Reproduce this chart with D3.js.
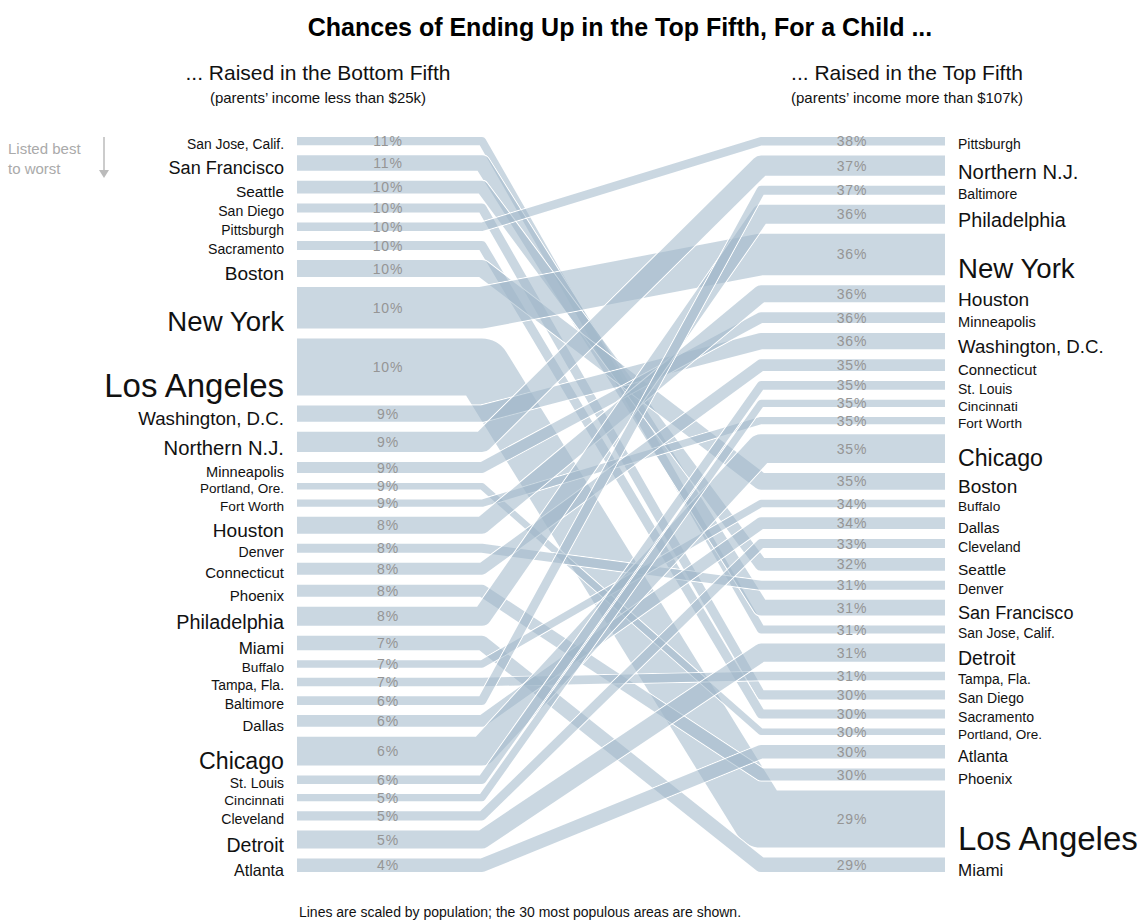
<!DOCTYPE html>
<html>
<head>
<meta charset="utf-8">
<script src="https://cdn.jsdelivr.net/npm/d3@7"></script>
<style>
  body { margin: 0; background: #fff; }
  text { font-family: "Liberation Sans", Arial, sans-serif; }
</style>
</head>
<body>
<svg id="chart" width="1142" height="924"></svg>
<script>
// Cities in the order of the left column (bottom-fifth chances, best to worst)
const cities = ["San Jose, Calif.", "San Francisco", "Seattle", "San Diego", "Pittsburgh", "Sacramento",
  "Boston", "New York", "Los Angeles", "Washington, D.C.", "Northern N.J.", "Minneapolis",
  "Portland, Ore.", "Fort Worth", "Houston", "Denver", "Connecticut", "Phoenix", "Philadelphia",
  "Miami", "Buffalo", "Tampa, Fla.", "Baltimore", "Dallas", "Chicago", "St. Louis", "Cincinnati",
  "Cleveland", "Detroit", "Atlanta"];

// chance (%) of reaching the top fifth, child raised in the bottom fifth
const bottomFifth = [11, 11, 10, 10, 10, 10, 10, 10, 10, 9, 9, 9, 9, 9, 8, 8, 8, 8, 8, 7, 7, 7, 6, 6, 6, 6, 5, 5, 5, 4];

// chance (%) of reaching the top fifth, child raised in the top fifth
const topFifth = [31, 31, 32, 30, 38, 30, 35, 36, 29, 36, 37, 36, 30, 35, 36, 31, 35, 30, 36, 29, 34, 31, 37, 34, 35, 35, 35, 33, 31, 30];

// population of each area, millions (sets line thickness)
const population = [2.35, 4.5, 3.65, 2.6, 2.45, 2.6, 4.85, 11.95, 16.4, 4.7, 5.85, 3.1, 1.9, 2.1, 4.9,
  2.6, 3.4, 3.5, 5.45, 4.15, 2.15, 2.45, 2.55, 3.4, 8.25, 2.45, 2.1, 2.6, 5.25, 3.85];

// order of the right column (top-fifth chances, best to worst)
const topOrder = ["Pittsburgh", "Northern N.J.", "Baltimore", "Philadelphia", "New York", "Houston",
  "Minneapolis", "Washington, D.C.", "Connecticut", "St. Louis", "Cincinnati", "Fort Worth", "Chicago",
  "Boston", "Buffalo", "Dallas", "Cleveland", "Seattle", "Denver", "San Francisco", "San Jose, Calif.",
  "Detroit", "Tampa, Fla.", "San Diego", "Sacramento", "Portland, Ore.", "Atlanta", "Phoenix",
  "Los Angeles", "Miami"];

var width = 1142, height = 924;
var svg = d3.select("#chart");

var top0 = 137, bottom0 = 872, gap = 10;
var x0 = 297, x1 = 482, x2 = 761, x3 = 945;

var totalPop = d3.sum(population);
var thick = d3.scaleLinear()
  .domain([0, totalPop])
  .range([0, (bottom0 - top0) - gap * (cities.length - 1)]);

var fontSize = d3.scaleLinear()
  .domain([2, 3.5, 4.8, 16.4])
  .range([13.5, 15, 19, 33])
  .clamp(true);

// stack the bands down a column in the given order
function stack(order) {
  var pos = {}, y = top0;
  order.forEach(function (c) {
    var h = thick(population[cities.indexOf(c)]);
    pos[c] = { y0: y, y1: y + h, mid: y + h / 2 };
    y += h + gap;
  });
  return pos;
}
var leftPos = stack(cities), rightPos = stack(topOrder);

var data = cities.map(function (c, i) {
  return {
    city: c, i: i,
    w: thick(population[i]),
    fs: fontSize(population[i]),
    left: leftPos[c], right: rightPos[c],
    pts: [[x0, leftPos[c].mid], [x1, leftPos[c].mid], [x2, rightPos[c].mid], [x3, rightPos[c].mid]]
  };
});

var line = d3.line();
var defs = svg.append("defs");

// a mask per band so the white edge is only a thin outline
data.forEach(function (d) {
  var m = defs.append("mask")
    .attr("id", "m" + d.i)
    .attr("maskUnits", "userSpaceOnUse")
    .attr("x", 0).attr("y", 0).attr("width", width).attr("height", height);
  m.append("path").attr("d", line(d.pts)).attr("fill", "none")
    .attr("stroke", "#fff").attr("stroke-width", d.w + 2.4).attr("stroke-linejoin", "round");
  m.append("path").attr("d", line(d.pts)).attr("fill", "none")
    .attr("stroke", "#000").attr("stroke-width", d.w).attr("stroke-linejoin", "round");
});

var bands = svg.append("g").attr("class", "bands");
data.forEach(function (d) {
  bands.append("path")
    .attr("d", line(d.pts))
    .attr("fill", "none")
    .attr("stroke", "#fff")
    .attr("stroke-width", d.w + 2.4)
    .attr("stroke-linejoin", "round")
    .attr("mask", "url(#m" + d.i + ")");
  bands.append("path")
    .attr("d", line(d.pts))
    .attr("fill", "none")
    .attr("stroke", "rgb(160,183,202)")
    .attr("stroke-opacity", 0.56)
    .attr("stroke-width", d.w)
    .attr("stroke-linejoin", "round");
});

// percentage labels
var pct = svg.append("g")
  .attr("fill", "#959595")
  .style("font-size", "14px")
  .style("letter-spacing", "0.8px")
  .attr("text-anchor", "middle");

pct.selectAll(".pl").data(data).enter().append("text")
  .attr("x", 388)
  .attr("y", function (d) { return d.left.mid; })
  .attr("dy", "0.36em")
  .text(function (d) { return bottomFifth[d.i] + "%"; });

pct.selectAll(".pr").data(data).enter().append("text")
  .attr("x", 852)
  .attr("y", function (d) { return d.right.mid; })
  .attr("dy", "0.36em")
  .text(function (d) { return topFifth[d.i] + "%"; });

// city names
var names = svg.append("g").attr("fill", "#111");
names.selectAll(".nl").data(data).enter().append("text")
  .attr("x", 284)
  .attr("y", function (d) { return d.left.y1 + 4 - 0.1 * (d.fs - 13); })
  .attr("text-anchor", "end")
  .style("font-size", function (d) { return d.fs + "px"; })
  .text(function (d) { return d.city; });

names.selectAll(".nr").data(data).enter().append("text")
  .attr("x", 958)
  .attr("y", function (d) { return d.right.y1 + 4 - 0.1 * (d.fs - 13); })
  .attr("text-anchor", "start")
  .style("font-size", function (d) { return d.fs + "px"; })
  .text(function (d) { return d.city; });

// headings
svg.append("text")
  .attr("x", 620).attr("y", 36)
  .attr("text-anchor", "middle")
  .style("font-size", "25px").style("font-weight", "bold")
  .attr("fill", "#000")
  .text("Chances of Ending Up in the Top Fifth, For a Child ...");

svg.append("text").attr("x", 318).attr("y", 80).attr("text-anchor", "middle")
  .style("font-size", "21px").attr("fill", "#111").text("... Raised in the Bottom Fifth");
svg.append("text").attr("x", 318).attr("y", 103).attr("text-anchor", "middle")
  .style("font-size", "15px").attr("fill", "#111").text("(parents\u2019 income less than $25k)");

svg.append("text").attr("x", 907).attr("y", 80).attr("text-anchor", "middle")
  .style("font-size", "21px").attr("fill", "#111").text("... Raised in the Top Fifth");
svg.append("text").attr("x", 907).attr("y", 103).attr("text-anchor", "middle")
  .style("font-size", "15px").attr("fill", "#111").text("(parents\u2019 income more than $107k)");

// "listed best to worst" note with arrow
svg.append("text").attr("x", 8).attr("y", 154)
  .style("font-size", "15px").attr("fill", "#aaa").text("Listed best");
svg.append("text").attr("x", 8).attr("y", 174)
  .style("font-size", "15px").attr("fill", "#aaa").text("to worst");
svg.append("line").attr("x1", 104).attr("x2", 104).attr("y1", 137).attr("y2", 172)
  .attr("stroke", "#bbb").attr("stroke-width", 1.5);
svg.append("path").attr("d", "M99,170L109,170L104,178Z").attr("fill", "#bbb");

// footnote
svg.append("text").attr("x", 520).attr("y", 917).attr("text-anchor", "middle")
  .style("font-size", "14px").attr("fill", "#111")
  .text("Lines are scaled by population; the 30 most populous areas are shown.");
</script>
</body>
</html>
